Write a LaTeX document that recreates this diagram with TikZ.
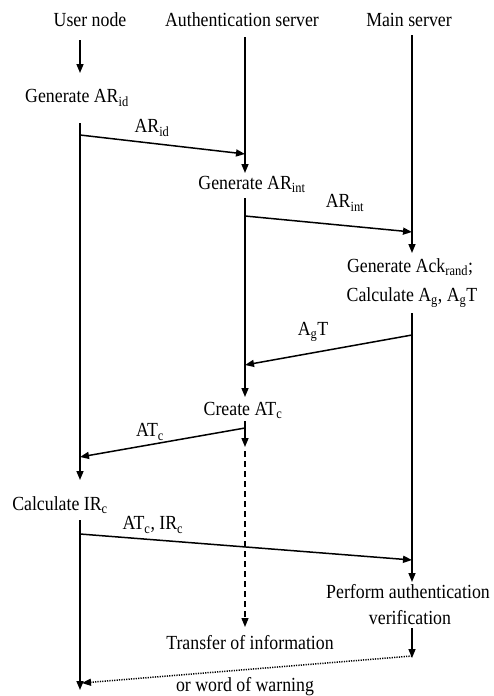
\documentclass[tikz,border=0pt]{standalone}
\usepackage{fontspec}
\setmainfont{Liberation Serif}[FakeStretch=0.89]
\usetikzlibrary{arrows.meta}
\tikzset{
  lbl/.style={inner sep=0pt, font=\fontsize{20}{22}\selectfont},
  flow/.style={line width=1.5pt, -{Triangle[length=9pt,width=7pt]}},
  msg/.style={line width=1.5pt, -{Triangle[length=9pt,width=7pt]}},
  fut/.style={line width=1.3pt, dash pattern=on 6pt off 4pt, -{Triangle[length=9pt,width=7pt]}},
  warn/.style={line width=1.5pt, dash pattern=on 1.2pt off 1.2pt, -{Triangle[length=9pt,width=7pt]}}
}
\begin{document}
\begin{tikzpicture}[x=1pt,y=-1pt]
\useasboundingbox (0,0) rectangle (493,696);
% headers
\node[lbl] (hu) at (90,20) {User node};
\node[lbl] (ha) at (242,20) {Authentication server};
\node[lbl] (hm) at (409,20) {Main server};
% step texts
\node[lbl] (gid) at (77,98) {Generate AR\textsubscript{id}};
\node[lbl] (gint) at (252,184) {Generate AR\textsubscript{int}};
\node[lbl] (gack) at (410,267) {Generate Ack\textsubscript{rand};};
\node[lbl] (calc) at (412,298) {Calculate A\textsubscript{g}, A\textsubscript{g}T};
\node[lbl] (cat) at (243,410) {Create AT\textsubscript{c}};
\node[lbl] (cir) at (60,505) {Calculate IR\textsubscript{c}};
\node[lbl] (perf) at (408,592) {Perform authentication};
\node[lbl] (verif) at (410,618) {verification};
\node[lbl] (trans) at (250,643) {Transfer of information};
\node[lbl] (warnt) at (245,687) {or word of warning};
% message labels
\node[lbl] (mid) at (152,128) {AR\textsubscript{id}};
\node[lbl] (mint) at (345,203) {AR\textsubscript{int}};
\node[lbl] (magt) at (313,332) {A\textsubscript{g}T};
\node[lbl] (matc) at (150,432) {AT\textsubscript{c}};
\node[lbl] (mir) at (153,525) {AT\textsubscript{c}, IR\textsubscript{c}};
% coordinates
\coordinate (u0) at (80,40);   \coordinate (u1) at (80,73);
\coordinate (u2) at (80,123);  \coordinate (u3) at (80,480);
\coordinate (u4) at (80,520);  \coordinate (u5) at (80,690);
\coordinate (a0) at (245,37);  \coordinate (a1) at (245,173);
\coordinate (a2) at (245,198); \coordinate (a3) at (245,397);
\coordinate (a4) at (245,421); \coordinate (a5) at (245,447);
\coordinate (a6) at (245,451); \coordinate (a7) at (245,627);
\coordinate (m0) at (412,35);  \coordinate (m1) at (412,253);
\coordinate (m2) at (412,313); \coordinate (m3) at (412,582);
\coordinate (m4) at (412,628); \coordinate (m5) at (412,658);
\coordinate (s1) at (80,135);  \coordinate (e1) at (245,154);
\coordinate (s2) at (245,216); \coordinate (e2) at (412,232);
\coordinate (s3) at (412,335); \coordinate (e3) at (245,365);
\coordinate (s4) at (245,428); \coordinate (e4) at (80,457);
\coordinate (s5) at (80,534);  \coordinate (e5) at (412,560);
\coordinate (s6) at (412,656); \coordinate (e6) at (82,683);
% lifelines
\draw[flow] (u0) -- (u1);
\draw[flow] (u2) -- (u3);
\draw[flow] (u4) -- (u5);
\draw[flow] (a0) -- (a1);
\draw[flow] (a2) -- (a3);
\draw[flow] (a4) -- (a5);
\draw[fut] (a6) -- (a7);
\draw[flow] (m0) -- (m1);
\draw[flow] (m2) -- (m3);
\draw[flow] (m4) -- (m5);
% messages
\draw[msg] (s1) -- (e1);
\draw[msg] (s2) -- (e2);
\draw[msg] (s3) -- (e3);
\draw[msg] (s4) -- (e4);
\draw[msg] (s5) -- (e5);
\draw[warn] (s6) -- (e6);
\end{tikzpicture}
\end{document}
